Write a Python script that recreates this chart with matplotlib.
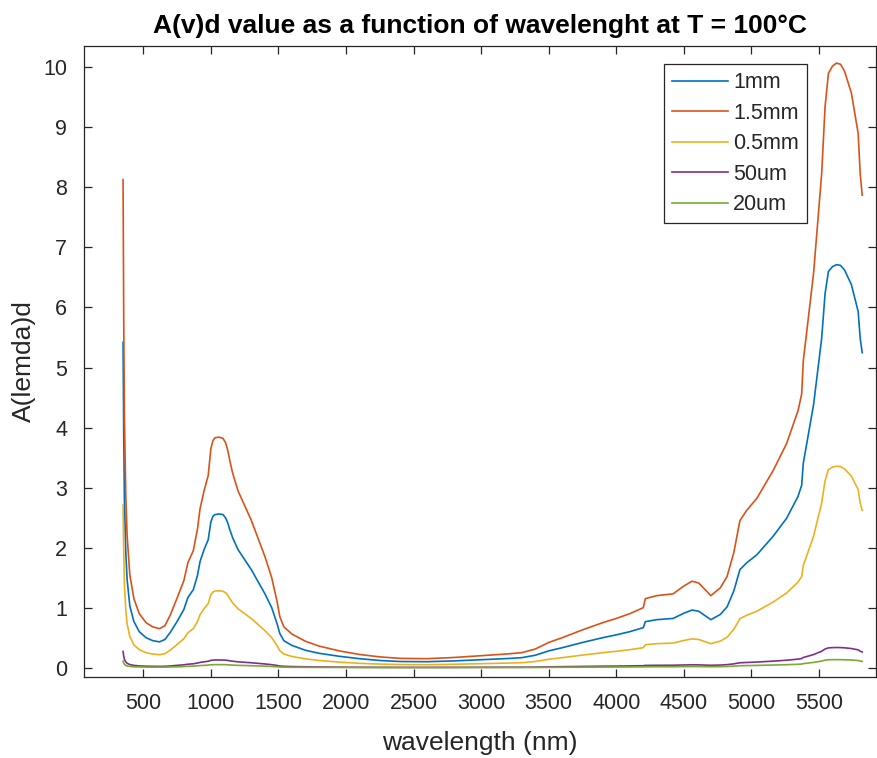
import matplotlib
matplotlib.use("Agg")
import matplotlib.pyplot as plt

wavelength = [350, 355, 360, 370, 380, 400, 430, 470, 520, 570, 620, 660, 700, 750, 800, 830, 870,
              900, 920, 950, 980, 1000, 1015, 1030, 1060, 1090, 1110, 1125, 1140, 1160, 1200, 1250,
              1300, 1350, 1400, 1450, 1490, 1510, 1540, 1600, 1700, 1800, 1950, 2100, 2250, 2400,
              2600, 2800, 3000, 3200, 3300, 3400, 3500, 3600, 3750, 3900, 4000, 4100, 4200, 4215,
              4300, 4420, 4500, 4560, 4610, 4700, 4770, 4820, 4870, 4915, 4965, 5040, 5160, 5260,
              5345, 5372, 5384, 5420, 5460, 5520, 5545, 5570, 5600, 5630, 5660, 5690, 5740, 5790,
              5805, 5820]

d_1mm = [5.42, 3.87, 2.80, 1.93, 1.47, 1.03, 0.77, 0.60, 0.50, 0.45, 0.43, 0.47, 0.59, 0.77, 0.97,
         1.17, 1.30, 1.53, 1.77, 1.97, 2.13, 2.43, 2.52, 2.55, 2.56, 2.55, 2.49, 2.41, 2.30, 2.17,
         1.97, 1.80, 1.63, 1.43, 1.23, 1.00, 0.73, 0.57, 0.45, 0.37, 0.29, 0.24, 0.19, 0.15, 0.12,
         0.103, 0.10, 0.113, 0.133, 0.153, 0.167, 0.207, 0.28, 0.333, 0.42, 0.50, 0.547, 0.60,
         0.667, 0.767, 0.80, 0.82, 0.907, 0.96, 0.94, 0.80, 0.887, 1.013, 1.28, 1.633, 1.747, 1.88,
         2.187, 2.487, 2.853, 3.04, 3.407, 3.867, 4.38, 5.487, 6.227, 6.60, 6.68, 6.713, 6.70,
         6.62, 6.38, 5.933, 5.487, 5.247]

d_15mm = [8.13, 5.80, 4.20, 2.90, 2.20, 1.55, 1.15, 0.90, 0.75, 0.68, 0.65, 0.70, 0.88, 1.16, 1.45,
          1.75, 1.95, 2.30, 2.65, 2.95, 3.20, 3.65, 3.78, 3.83, 3.84, 3.82, 3.74, 3.62, 3.45, 3.25,
          2.95, 2.70, 2.45, 2.15, 1.85, 1.50, 1.10, 0.85, 0.68, 0.56, 0.44, 0.36, 0.28, 0.22, 0.18,
          0.155, 0.15, 0.17, 0.20, 0.23, 0.25, 0.31, 0.42, 0.50, 0.63, 0.75, 0.82, 0.90, 1.00,
          1.15, 1.20, 1.23, 1.36, 1.44, 1.41, 1.20, 1.33, 1.52, 1.92, 2.45, 2.62, 2.82, 3.28, 3.73,
          4.28, 4.56, 5.11, 5.80, 6.57, 8.23, 9.34, 9.90, 10.02, 10.07, 10.05, 9.93, 9.57, 8.90,
          8.23, 7.87]

d_05mm = [2.71, 1.93, 1.40, 0.97, 0.73, 0.52, 0.38, 0.30, 0.25, 0.227, 0.217, 0.233, 0.293, 0.387,
          0.483, 0.583, 0.65, 0.767, 0.883, 0.983, 1.067, 1.217, 1.26, 1.277, 1.28, 1.273, 1.247,
          1.207, 1.15, 1.083, 0.983, 0.90, 0.817, 0.717, 0.617, 0.50, 0.367, 0.283, 0.227, 0.187,
          0.147, 0.12, 0.093, 0.073, 0.06, 0.052, 0.05, 0.057, 0.067, 0.077, 0.083, 0.103, 0.14,
          0.167, 0.21, 0.25, 0.273, 0.30, 0.333, 0.383, 0.40, 0.41, 0.453, 0.48, 0.47, 0.40, 0.443,
          0.507, 0.64, 0.817, 0.873, 0.94, 1.093, 1.243, 1.427, 1.52, 1.703, 1.933, 2.19, 2.743,
          3.113, 3.30, 3.34, 3.357, 3.35, 3.31, 3.19, 2.967, 2.743, 2.623]

d_50um = [0.271, 0.193, 0.14, 0.097, 0.073, 0.052, 0.038, 0.030, 0.025, 0.023, 0.022, 0.023, 0.029,
          0.039, 0.048, 0.058, 0.065, 0.077, 0.088, 0.098, 0.107, 0.122, 0.126, 0.128, 0.128, 0.127,
          0.125, 0.121, 0.115, 0.108, 0.098, 0.09, 0.082, 0.072, 0.062, 0.05, 0.037, 0.028, 0.023,
          0.019, 0.015, 0.012, 0.009, 0.007, 0.006, 0.005, 0.005, 0.006, 0.007, 0.008, 0.008, 0.010,
          0.014, 0.017, 0.021, 0.025, 0.027, 0.03, 0.033, 0.038, 0.04, 0.041, 0.045, 0.048, 0.047,
          0.04, 0.044, 0.051, 0.064, 0.082, 0.087, 0.094, 0.109, 0.124, 0.143, 0.152, 0.17, 0.193,
          0.219, 0.274, 0.311, 0.33, 0.334, 0.336, 0.335, 0.331, 0.319, 0.297, 0.274, 0.262]

d_20um = [0.108, 0.077, 0.056, 0.039, 0.029, 0.021, 0.015, 0.012, 0.010, 0.009, 0.009, 0.009, 0.012,
          0.015, 0.019, 0.023, 0.026, 0.031, 0.035, 0.039, 0.043, 0.049, 0.05, 0.051, 0.051, 0.051,
          0.05, 0.048, 0.046, 0.043, 0.039, 0.036, 0.033, 0.029, 0.025, 0.02, 0.015, 0.011, 0.009,
          0.007, 0.006, 0.005, 0.004, 0.003, 0.002, 0.002, 0.002, 0.002, 0.003, 0.003, 0.003, 0.004,
          0.006, 0.007, 0.008, 0.01, 0.011, 0.012, 0.013, 0.015, 0.016, 0.016, 0.018, 0.019, 0.019,
          0.016, 0.018, 0.02, 0.026, 0.033, 0.035, 0.038, 0.044, 0.05, 0.057, 0.061, 0.068, 0.077,
          0.088, 0.11, 0.125, 0.132, 0.134, 0.134, 0.134, 0.132, 0.128, 0.119, 0.11, 0.105]

series_labels = ["1mm", "1.5mm", "0.5mm", "50um", "20um"]
series_colors = ["#0072BD", "#D95319", "#EDB120", "#7E2F8E", "#77AC30"]
x_ticks = [500, 1000, 1500, 2000, 2500, 3000, 3500, 4000, 4500, 5000, 5500]
y_ticks = [0, 1, 2, 3, 4, 5, 6, 7, 8, 9, 10]

plt.rcParams['font.family'] = ['Liberation Sans', 'DejaVu Sans']
dark = "#262626"

fig = plt.figure(figsize=(8.77, 7.58), dpi=100)
ax = fig.add_axes([84/877, 1 - 677/758, (876 - 84)/877, (677 - 46)/758])

for ys, lab, col in zip([d_1mm, d_15mm, d_05mm, d_50um, d_20um], series_labels, series_colors):
    ax.plot(wavelength, ys, color=col, lw=1.2, label=lab)

ax.set_xlim(61, 5922)
ax.set_ylim(-0.155, 10.355)
ax.set_xticks(x_ticks)
ax.set_yticks(y_ticks)
ax.tick_params(direction='in', length=6, width=0.9, colors=dark, labelsize=15.5,
               top=True, right=True)
ax.tick_params(axis='x', pad=11.5)
ax.tick_params(axis='y', pad=12)
for s in ax.spines.values():
    s.set_color(dark)
    s.set_linewidth(0.9)

ax.set_title("A(v)d value as a function of wavelenght at T = 100°C", fontsize=19,
             fontweight='bold', color='black', pad=9.4)
ax.set_xlabel("wavelength (nm)", fontsize=19, color=dark, labelpad=12)
ax.set_ylabel("A(lemda)d", fontsize=19, color=dark, labelpad=5)

leg = ax.legend(loc='upper right', bbox_to_anchor=(807/877, 1 - 64/758), bbox_transform=fig.transFigure,
                fontsize=15.5, frameon=True, fancybox=False, edgecolor=dark, framealpha=1,
                handlelength=2.6, handletextpad=0.25, labelspacing=0.44, borderpad=0.38,
                borderaxespad=0)
leg.get_frame().set_linewidth(0.9)
for t in leg.get_texts():
    t.set_color(dark)

fig.savefig("out.png", dpi=100)
